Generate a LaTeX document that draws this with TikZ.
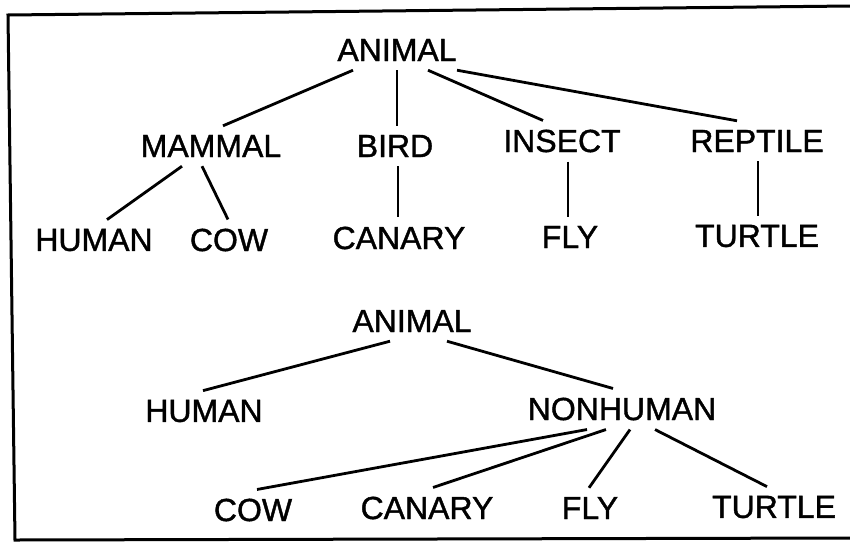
\documentclass[tikz,border=0pt]{standalone}
\usepackage{fontspec}
\setmainfont{Liberation Sans}
\newfontfamily\treefont{Liberation Sans}[FakeBold=1.2]
\usepackage{tikz}

\begin{document}
\begin{tikzpicture}[x=1pt, y=-1pt,
        term/.style={inner xsep=0pt, inner ysep=9pt, font=\treefont\fontsize{32}{32}\selectfont},
        link/.style={line width=2.8pt},
        frame/.style={line width=3pt}
]
    \useasboundingbox (0,0) rectangle (850,544);
    \draw[frame] (850,6) -- (8,15) -- (15,540) -- (850,538);
    % first tree
    \node[term] (animalA)  at (397,50)  {ANIMAL};
    \node[term] (mammal)   at (211,146) {MAMMAL};
    \node[term] (bird)     at (395,146) {BIRD};
    \node[term] (insect)   at (562,141) {INSECT};
    \node[term] (reptile)  at (757,141) {REPTILE};
    \node[term] (humanA)   at (94,240)  {HUMAN};
    \node[term] (cowA)     at (229,240) {COW};
    \node[term] (canaryA)  at (399,238) {CANARY};
    \node[term] (flyA)     at (570,237) {FLY};
    \node[term] (turtleA)  at (757,236) {TURTLE};
    \draw[link] ([xshift=-44pt]animalA.south) -- ([xshift=12pt]mammal.north);
    \draw[link] (animalA.south) -- ([xshift=2pt]bird.north);
    \draw[link] ([xshift=31pt]animalA.south) -- ([xshift=-19pt]insect.north);
    \draw[link] ([xshift=60pt]animalA.south) -- ([xshift=-20pt]reptile.north);
    \draw[link] ([xshift=-29pt]mammal.south) -- ([xshift=13pt]humanA.north);
    \draw[link] ([xshift=-9pt]mammal.south) -- ([xshift=-1pt]cowA.north);
    \draw[link] ([xshift=3pt]bird.south) -- ([xshift=-1pt]canaryA.north);
    \draw[link] ([xshift=6pt]insect.south) -- ([xshift=-2pt]flyA.north);
    \draw[link] ([xshift=1pt]reptile.south) -- ([xshift=1pt]turtleA.north);
    % second tree
    \node[term] (animalB)  at (412,321) {ANIMAL};
    \node[term] (humanB)   at (204,411) {HUMAN};
    \node[term] (nonhuman) at (622,409) {NONHUMAN};
    \node[term] (cowB)     at (253,510) {COW};
    \node[term] (canaryB)  at (427,508) {CANARY};
    \node[term] (flyB)     at (590,508) {FLY};
    \node[term] (turtleB)  at (774,507) {TURTLE};
    \draw[link] ([xshift=-22pt]animalB.south) -- ([xshift=-1pt]humanB.north);
    \draw[link] ([xshift=35pt]animalB.south) -- ([xshift=-9pt]nonhuman.north);
    \draw[link] ([xshift=-35pt]nonhuman.south) -- ([xshift=4pt]cowB.north);
    \draw[link] ([xshift=-16pt]nonhuman.south) -- ([xshift=6pt]canaryB.north);
    \draw[link] ([xshift=8pt]nonhuman.south) -- ([xshift=-1pt]flyB.north);
    \draw[link] ([xshift=33pt]nonhuman.south) -- ([xshift=-7pt]turtleB.north);
\end{tikzpicture}
\end{document}
